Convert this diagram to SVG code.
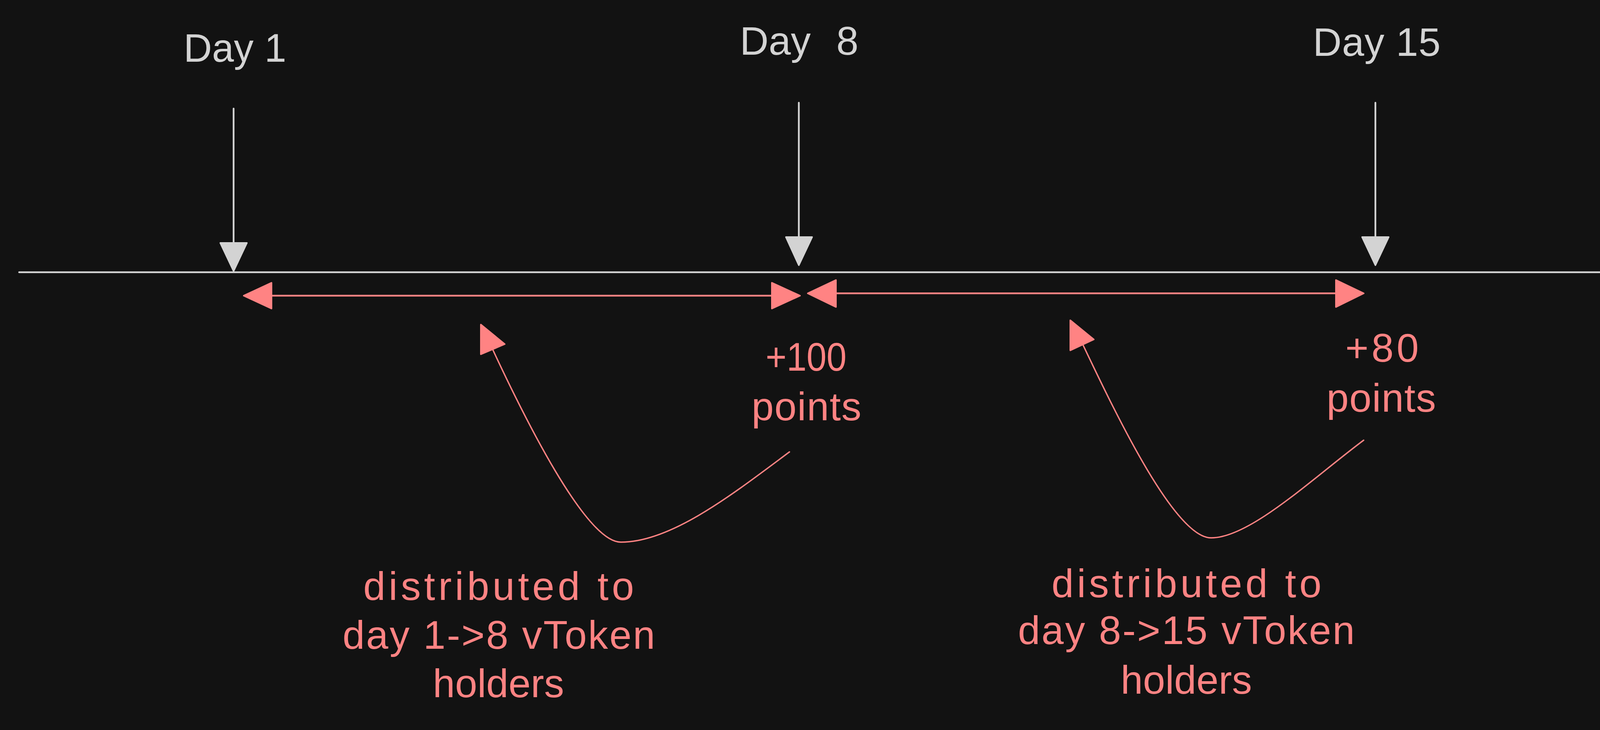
<svg xmlns="http://www.w3.org/2000/svg" width="4325" height="1869" viewBox="0 0 4325 1869">
<style>
.bg{fill:#121212}
.g{stroke:#d3d3d3;stroke-width:4.5;fill:none;stroke-linecap:round}
.gh{fill:#d3d3d3;stroke:#d3d3d3;stroke-width:4;stroke-linejoin:round}
.r{stroke:#ff8383;stroke-width:4.5;fill:none;stroke-linecap:round}
.rc{stroke:#ff8383;stroke-width:3.5;fill:none;stroke-linecap:round}
.rh{fill:#ff8383;stroke:#ff8383;stroke-width:4;stroke-linejoin:round}
.tg{font-family:"Liberation Sans",Arial,sans-serif;font-size:102px;fill:#d3d3d3}
.tr{font-family:"Liberation Sans",Arial,sans-serif;font-size:102px;fill:#ff8383}
</style>
<rect class="bg" x="0" y="0" width="4325" height="1869"/>
<g id="connectors">
  <line class="g" x1="49" y1="697" x2="4210" y2="697"/>
  <polygon class="gh" points="4276,697 4206,663 4206,730"/>
  <line class="g" x1="598" y1="278" x2="598" y2="622"/>
  <polygon class="gh" points="564,622 632,622 598,694"/>
  <line class="g" x1="2045" y1="263" x2="2045" y2="607"/>
  <polygon class="gh" points="2012,607 2079,607 2045,679"/>
  <line class="g" x1="3521" y1="263" x2="3521" y2="607"/>
  <polygon class="gh" points="3487,607 3555,607 3521,679"/>
  <line class="r" x1="695" y1="757" x2="1976" y2="757"/>
  <polygon class="rh" points="624,757 695,724 695,790"/>
  <polygon class="rh" points="2048,757 1976,724 1976,790"/>
  <line class="r" x1="2140" y1="751" x2="3420" y2="751"/>
  <polygon class="rh" points="2068,751 2140,717 2140,786"/>
  <polygon class="rh" points="3491,751 3420,717 3420,786"/>
  <path class="rc" d="M1261,894 C1340,1064 1500,1390 1590,1388 C1720,1388 1880,1262 2021,1157"/>
  <polygon class="rh" points="1231,831 1231,907 1292,881"/>
  <path class="rc" d="M2772,882 C2864,1076 3010,1378 3101,1377 C3200,1377 3360,1225 3491,1127"/>
  <polygon class="rh" points="2740,820 2740,897 2800,869"/>
</g>
<g id="day1"><text class="tg" x="470" y="158" textLength="263" lengthAdjust="spacingAndGlyphs">Day 1</text></g>
<g id="day8"><text class="tg" x="1894" y="140">Day <tspan x="2141">8</tspan></text></g>
<g id="day15"><text class="tg" x="3361" y="143" textLength="327" lengthAdjust="spacing">Day 15</text></g>
<g id="points100">
  <text class="tr" x="1960" y="949" textLength="207" lengthAdjust="spacingAndGlyphs">+100</text>
  <text class="tr" x="1924" y="1076" textLength="281" lengthAdjust="spacing">points</text>
</g>
<g id="points80">
  <text class="tr" x="3444" y="926" textLength="188" lengthAdjust="spacing">+80</text>
  <text class="tr" x="3396" y="1054" textLength="280" lengthAdjust="spacing">points</text>
</g>
<g id="dist1">
  <text class="tr" x="930" y="1536" textLength="693" lengthAdjust="spacing">distributed to</text>
  <text class="tr" x="877" y="1661" textLength="800" lengthAdjust="spacing">day 1-&gt;8 vToken</text>
  <text class="tr" x="1108" y="1785" textLength="336" lengthAdjust="spacing">holders</text>
</g>
<g id="dist2">
  <text class="tr" x="2692" y="1529" textLength="691" lengthAdjust="spacing">distributed to</text>
  <text class="tr" x="2606" y="1649" textLength="862" lengthAdjust="spacing">day 8-&gt;15 vToken</text>
  <text class="tr" x="2869" y="1776" textLength="336" lengthAdjust="spacing">holders</text>
</g>
</svg>
